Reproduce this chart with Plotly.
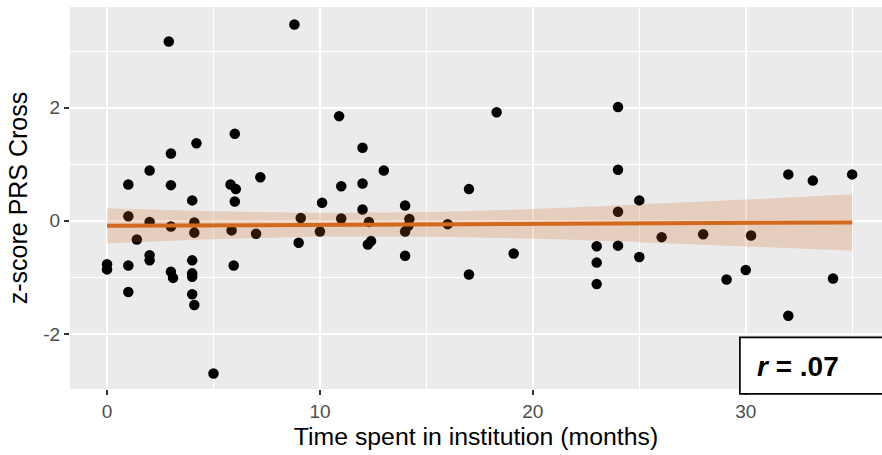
import plotly.graph_objects as go

# months in institution, z-score PRS Cross
months = [0, 0, 1, 1, 1, 1, 1.4, 2, 2, 2, 2, 2.9, 3, 3, 3, 3, 3.1,
          4, 4.2, 4.1, 4.1, 4, 4, 4, 4, 4.1, 5, 6, 5.8, 6.05, 6, 5.85, 5.95,
          7.2, 7, 8.8, 9, 9.1, 10.1, 10, 10.9, 11, 11, 12, 12, 12, 12.3, 12.25,
          12.4, 13, 14, 14.2, 14.15, 14, 14, 16, 17, 17, 18.3, 19.1, 23, 23, 23,
          24, 24, 24, 24, 25, 25, 26.05, 28, 29.1, 30, 30.25, 32, 32, 33.15, 34.1, 35]
zscore = [-0.77, -0.86, 0.64, 0.08, -0.79, -1.26, -0.33, 0.89, -0.02, -0.61, -0.70,
          3.17, 1.19, 0.63, -0.10, -0.90, -1.01,
          0.36, 1.37, -0.03, -0.21, -0.70, -0.93, -0.99, -1.30, -1.49, -2.70,
          1.54, 0.64, 0.56, 0.34, -0.17, -0.79,
          0.77, -0.23, 3.47, -0.39, 0.05, 0.32, -0.19, 1.85, 0.61, 0.04, 1.29, 0.66, 0.20,
          -0.02, -0.42, -0.36, 0.89, 0.27, 0.03, -0.09, -0.19, -0.62, -0.06, 0.56, -0.95,
          1.92, -0.58, -0.45, -0.74, -1.12, 2.01, 0.90, 0.16, -0.44, 0.36, -0.64, -0.29,
          -0.24, -1.04, -0.87, -0.26, 0.82, -1.68, 0.71, -1.02, 0.82]

# linear-fit line and its 95% confidence band
fit_x = [0, 5, 10, 15, 20, 25, 30, 35]
fit_y = [-0.09, -0.08, -0.07, -0.065, -0.055, -0.045, -0.04, -0.03]
band_upper = [0.22, 0.167, 0.142, 0.154, 0.21, 0.288, 0.374, 0.47]
band_lower = [-0.40, -0.327, -0.282, -0.284, -0.32, -0.378, -0.454, -0.53]

x_ticks = [0, 10, 20, 30]
x_tick_labels = ["0", "10", "20", "30"]
x_minor = [5, 15, 25, 35]
y_ticks = [-2, 0, 2]
y_tick_labels = ["-2", "0", "2"]
y_minor = [-3, -1, 1, 3]
r_label = "<b><i>r</i> = .07</b>"

LINE = "rgb(210,105,30)"

fig = go.Figure()
fig.add_trace(go.Scatter(x=months, y=zscore, mode="markers",
                         marker=dict(color="black", size=10.5, line=dict(width=0)),
                         showlegend=False, hoverinfo="skip"))
fig.add_trace(go.Scatter(x=fit_x, y=band_lower, mode="lines",
                         line=dict(width=0, shape="spline", smoothing=0.8),
                         showlegend=False, hoverinfo="skip"))
fig.add_trace(go.Scatter(x=fit_x, y=band_upper, mode="lines", fill="tonexty",
                         fillcolor="rgba(210,105,30,0.22)",
                         line=dict(width=0, shape="spline", smoothing=0.8),
                         showlegend=False, hoverinfo="skip"))
fig.add_trace(go.Scatter(x=fit_x, y=fit_y, mode="lines", line=dict(color=LINE, width=4),
                         showlegend=False, hoverinfo="skip"))

axis_common = dict(showline=False, zeroline=False, gridcolor="white", gridwidth=1.6,
                   ticks="outside", ticklen=5, tickwidth=1.5, tickcolor="#333333",
                   tickfont=dict(family="Liberation Sans, Arial", size=19, color="#4D4D4D"),
                   tickmode="array")

fig.update_xaxes(range=[-1.74, 36.4], tickvals=x_ticks, ticktext=x_tick_labels,
                 minor=dict(tickvals=x_minor, showgrid=True, gridcolor="white", gridwidth=0.8,
                            ticks=""),
                 title=dict(text="Time spent in institution (months)",
                            font=dict(family="Liberation Sans, Arial", size=24.8, color="black"),
                            standoff=6),
                 **axis_common)
fig.update_yaxes(range=[-2.975, 3.78], tickvals=y_ticks, ticktext=y_tick_labels,
                 minor=dict(tickvals=y_minor, showgrid=True, gridcolor="white", gridwidth=0.8,
                            ticks=""),
                 title=dict(text="z-score PRS Cross",
                            font=dict(family="Liberation Sans, Arial", size=25, color="black"),
                            standoff=8),
                 **axis_common)

fig.add_shape(type="rect", xref="paper", yref="paper", x0=0.825, x1=1.05, y0=-0.013, y1=0.135,
              line=dict(color="black", width=1.7), fillcolor="white", layer="above")
fig.add_annotation(xref="paper", yref="paper", x=0.897, y=0.058, text=r_label, showarrow=False,
                   font=dict(family="Liberation Sans Narrow, Arial Narrow, Liberation Sans, Arial",
                             size=28, color="black"),
                   xanchor="center", yanchor="middle")

fig.update_layout(width=882, height=455, margin=dict(l=70, r=0, t=7, b=66),
                  plot_bgcolor="#EBEBEB", paper_bgcolor="white", showlegend=False)

fig.write_html("out.html")
